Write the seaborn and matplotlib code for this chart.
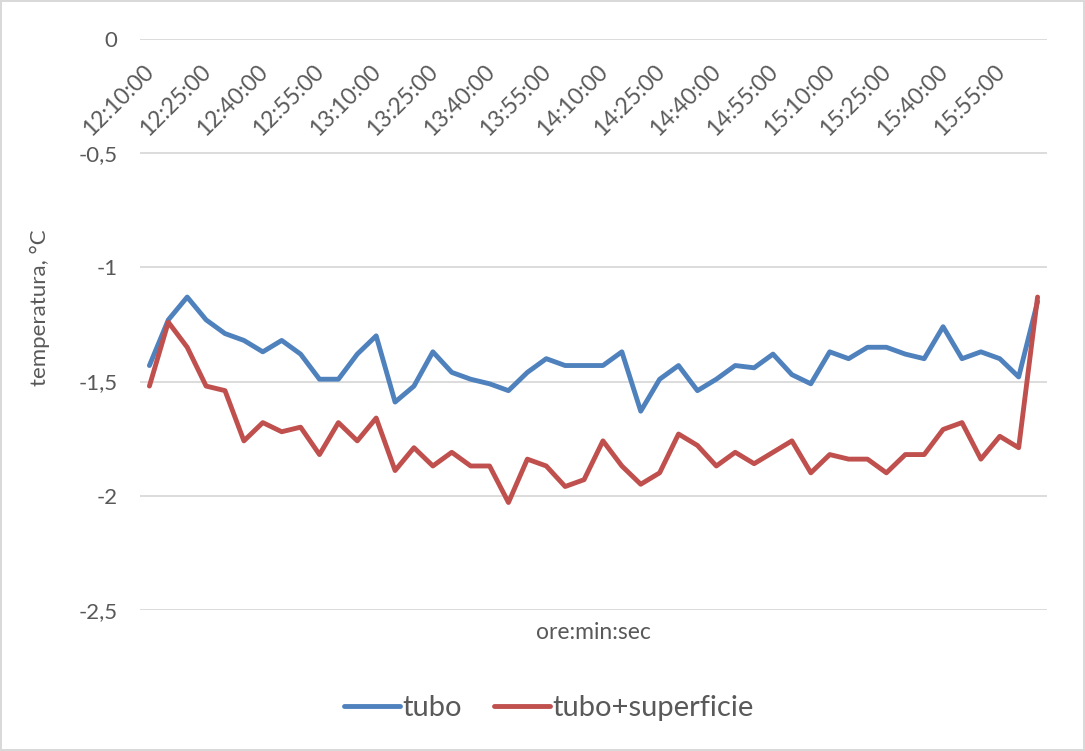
import pandas as pd
import matplotlib.pyplot as plt
import matplotlib.transforms as mtransforms
import seaborn as sns

# Time categories (5 minute steps)
times = ["12:10:00", "12:15:00", "12:20:00", "12:25:00", "12:30:00", "12:35:00",
         "12:40:00", "12:45:00", "12:50:00", "12:55:00", "13:00:00", "13:05:00",
         "13:10:00", "13:15:00", "13:20:00", "13:25:00", "13:30:00", "13:35:00",
         "13:40:00", "13:45:00", "13:50:00", "13:55:00", "14:00:00", "14:05:00",
         "14:10:00", "14:15:00", "14:20:00", "14:25:00", "14:30:00", "14:35:00",
         "14:40:00", "14:45:00", "14:50:00", "14:55:00", "15:00:00", "15:05:00",
         "15:10:00", "15:15:00", "15:20:00", "15:25:00", "15:30:00", "15:35:00",
         "15:40:00", "15:45:00", "15:50:00", "15:55:00", "16:00:00", "16:05:00"]

tubo = [-1.43, -1.23, -1.13, -1.23, -1.29, -1.32, -1.37, -1.32, -1.38, -1.49, -1.49, -1.38,
        -1.30, -1.59, -1.52, -1.37, -1.46, -1.49, -1.51, -1.54, -1.46, -1.40, -1.43, -1.43,
        -1.43, -1.37, -1.63, -1.49, -1.43, -1.54, -1.49, -1.43, -1.44, -1.38, -1.47, -1.51,
        -1.37, -1.40, -1.35, -1.35, -1.38, -1.40, -1.26, -1.40, -1.37, -1.40, -1.48, -1.15]

tubo_superficie = [-1.52, -1.24, -1.35, -1.52, -1.54, -1.76, -1.68, -1.72, -1.70, -1.82, -1.68, -1.76,
                   -1.66, -1.89, -1.79, -1.87, -1.81, -1.87, -1.87, -2.03, -1.84, -1.87, -1.96, -1.93,
                   -1.76, -1.87, -1.95, -1.90, -1.73, -1.78, -1.87, -1.81, -1.86, -1.81, -1.76, -1.90,
                   -1.82, -1.84, -1.84, -1.90, -1.82, -1.82, -1.71, -1.68, -1.84, -1.74, -1.79, -1.13]

yticks = [0, -0.5, -1, -1.5, -2, -2.5]
ytick_labels = ["0", "-0,5", "-1", "-1,5", "-2", "-2,5"]

# Long format for seaborn
df = pd.DataFrame({"pos": range(len(times)), "ora": times,
                   "tubo": tubo, "tubo+superficie": tubo_superficie})
long_df = df.melt(id_vars=["pos", "ora"], var_name="serie", value_name="temp")

sns.set_theme(style="white")
plt.rcParams['font.family'] = ['Lato', 'DejaVu Sans']

grey = "#595959"
fig = plt.figure(figsize=(10.85, 7.51), dpi=100, edgecolor="#D9D9D9", linewidth=1.5)
ax = fig.add_axes([0.129, 0.188, 0.836, 0.760])

sns.lineplot(data=long_df, x="pos", y="temp", hue="serie",
             palette={"tubo": "#4F81BD", "tubo+superficie": "#C0504D"},
             linewidth=3.5, solid_joinstyle="round", solid_capstyle="round", ax=ax)

# Axes styling
ax.set_xlim(-0.5, len(times) - 0.5)
ax.set_ylim(-2.5, 0)
ax.set_yticks(yticks, ytick_labels)
ax.set_xticks(range(0, len(times), 3), times[::3],
              rotation=45, ha="right", va="top", rotation_mode="anchor")
ax.tick_params(axis="x", bottom=False, top=False, labelbottom=False, labeltop=True,
               pad=-17, labelsize=16.5, labelcolor=grey, length=0)
ax.tick_params(axis="y", left=False, pad=16, labelsize=16, labelcolor=grey, length=0)
# nudge the rotated time labels a bit left
shift = mtransforms.ScaledTranslation(-6 / 100, 2 / 100, fig.dpi_scale_trans)
for lbl in ax.get_xticklabels():
    lbl.set_transform(lbl.get_transform() + shift)
for s in ax.spines.values():
    s.set_visible(False)
ax.yaxis.grid(True, color="#D9D9D9", linewidth=1.3)
ax.xaxis.grid(False)

ax.set_xlabel("ore:min:sec", fontsize=16.5, color=grey)
ax.xaxis.set_label_position("bottom")
ax.xaxis.set_label_coords(0.5, -0.04)
ax.xaxis.label.set_va("center")
ax.set_ylabel("temperatura, °C", fontsize=16, color=grey)
ax.yaxis.set_label_coords(-0.11, 0.53)
ax.yaxis.label.set_va("center")

# Legend below
handles, labels = ax.get_legend_handles_labels()
ax.get_legend().remove()
fig.legend(handles, labels, loc="center", bbox_to_anchor=(0.506, 0.057), ncol=2,
           frameon=False, fontsize=21, handlelength=1.9, handletextpad=0.1,
           columnspacing=1.1, labelcolor=grey)

fig.savefig("out.png", dpi=100)
